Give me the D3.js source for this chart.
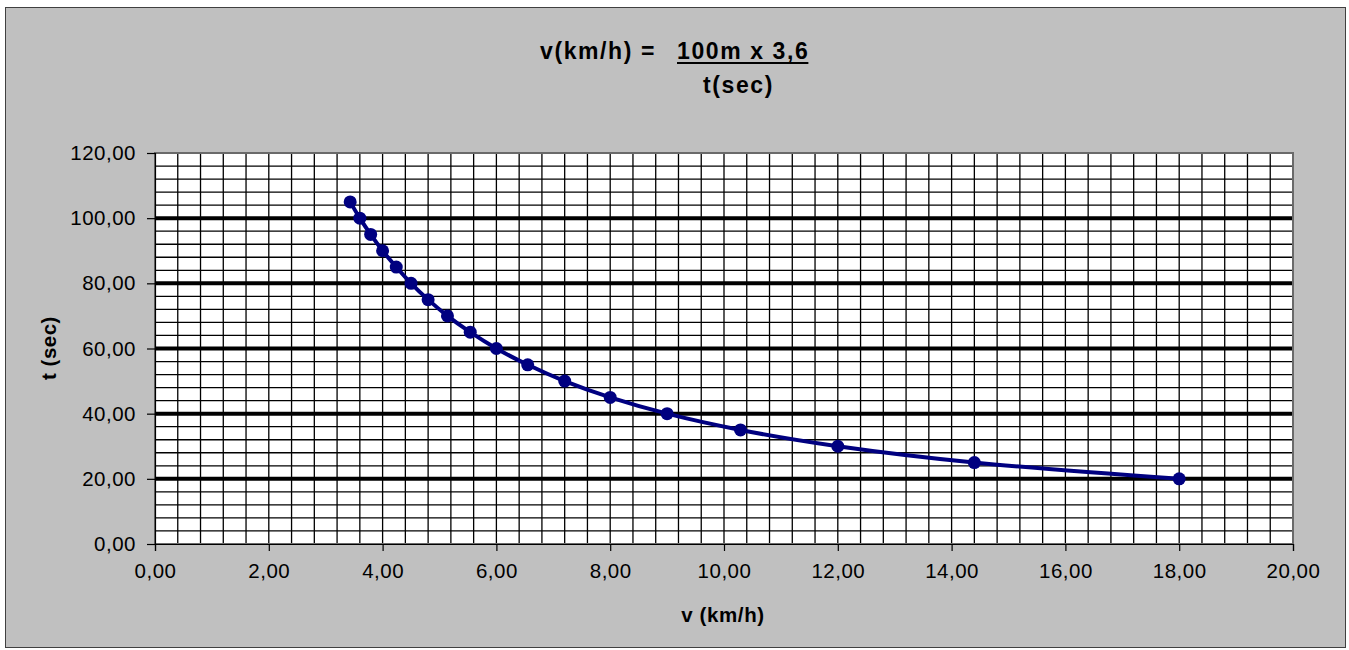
<!DOCTYPE html>
<html>
<head>
<meta charset="utf-8">
<script src="https://cdn.jsdelivr.net/npm/d3@7"></script>
<style>
  html, body { margin: 0; padding: 0; background: #ffffff; }
  svg { display: block; }
  text { font-family: "Liberation Sans", Arial, sans-serif; fill: #000; }
</style>
</head>
<body>
<svg id="chart" width="1349" height="650"></svg>
<script>
// Speed over 100 m versus time: v (km/h) = 100 m x 3,6 / t (sec)
const speedKmh = [3.43, 3.60, 3.79, 4.00, 4.24, 4.50, 4.80, 5.14, 5.54, 6.00, 6.55, 7.20, 8.00, 9.00, 10.29, 12.00, 14.40, 18.00];
const timeSec  = [105, 100, 95, 90, 85, 80, 75, 70, 65, 60, 55, 50, 45, 40, 35, 30, 25, 20];

const xTicks = [0, 2, 4, 6, 8, 10, 12, 14, 16, 18, 20];
const yTicks = [0, 20, 40, 60, 80, 100, 120];
const xMinorStep = 0.4;
const yMinorStep = 4;

const titleLeft = "v(km/h) =";
const titleNumerator = "100m x 3,6";
const titleDenominator = "t(sec)";
const xTitle = "v (km/h)";
const yTitle = "t (sec)";

const svg = d3.select("#chart");
const plot = { left: 155, top: 153, right: 1293, bottom: 544 };

const fmt = v => d3.format(".2f")(v).replace(".", ",");

// chart area
svg.append("rect")
  .attr("x", 5.5).attr("y", 7.5)
  .attr("width", 1340).attr("height", 640)
  .attr("fill", "#c0c0c0")
  .attr("stroke", "#404040").attr("stroke-width", 1);

const x = d3.scaleLinear().domain([0, 20]).range([plot.left, plot.right]);
const y = d3.scaleLinear().domain([0, 120]).range([plot.bottom, plot.top]);

// plot area
svg.append("rect")
  .attr("x", plot.left).attr("y", plot.top)
  .attr("width", plot.right - plot.left).attr("height", plot.bottom - plot.top)
  .attr("fill", "#ffffff");

const grid = svg.append("g");

// minor vertical gridlines
const xMinor = d3.range(1, Math.round(20 / xMinorStep)).map(i => +(i * xMinorStep).toFixed(2));
grid.selectAll("line.vx").data(xMinor).join("line")
  .attr("x1", d => x(d)).attr("x2", d => x(d))
  .attr("y1", plot.top).attr("y2", plot.bottom)
  .attr("stroke", "#000").attr("stroke-width", 1.3);

// minor horizontal gridlines
const yMinor = d3.range(1, Math.round(120 / yMinorStep)).map(i => i * yMinorStep).filter(d => d % 20 !== 0);
grid.selectAll("line.hy").data(yMinor).join("line")
  .attr("x1", plot.left).attr("x2", plot.right)
  .attr("y1", d => y(d)).attr("y2", d => y(d))
  .attr("stroke", "#000").attr("stroke-width", 1.3);

// major horizontal gridlines
grid.selectAll("line.major").data(yTicks.filter(d => d > 0 && d < 120)).join("line")
  .attr("x1", plot.left).attr("x2", plot.right)
  .attr("y1", d => y(d)).attr("y2", d => y(d))
  .attr("stroke", "#000").attr("stroke-width", 4);

// plot area border
svg.append("rect")
  .attr("x", plot.left).attr("y", plot.top)
  .attr("width", plot.right - plot.left).attr("height", plot.bottom - plot.top)
  .attr("fill", "none")
  .attr("stroke", "#6a6a6a").attr("stroke-width", 2);

// axes
const xAxis = d3.axisBottom(x).tickValues(xTicks).tickSize(7).tickPadding(12).tickFormat(fmt);
const yAxis = d3.axisLeft(y).tickValues(yTicks).tickSize(8).tickPadding(11).tickFormat(fmt);

const gx = svg.append("g").attr("transform", `translate(0,${plot.bottom})`).call(xAxis);
const gy = svg.append("g").attr("transform", `translate(${plot.left},0)`).call(yAxis);

[gx, gy].forEach(g => {
  g.select(".domain").attr("stroke", "#000").attr("stroke-width", 1.2);
  g.selectAll(".tick line").attr("stroke", "#000").attr("stroke-width", 1.2);
  g.selectAll(".tick text")
    .attr("fill", "#000")
    .style("font-family", "'Liberation Sans', Arial, sans-serif")
    .style("font-size", "20.5px")
    .style("letter-spacing", "0.5px");
});
gx.selectAll(".tick text").attr("dy", "0.71em");

// series line (smoothed) and markers
const pts = speedKmh.map((v, i) => ({ v, t: timeSec[i] }));
const line = d3.line().x(d => x(d.v)).y(d => y(d.t)).curve(d3.curveCatmullRom.alpha(0.5));

svg.append("path")
  .datum(pts)
  .attr("d", line)
  .attr("fill", "none")
  .attr("stroke", "#000080")
  .attr("stroke-width", 4)
  .attr("stroke-linejoin", "round");

svg.selectAll("circle.pt").data(pts).join("circle")
  .attr("cx", d => x(d.v)).attr("cy", d => y(d.t))
  .attr("r", 6.5)
  .attr("fill", "#000080");

// axis titles
svg.append("text")
  .attr("x", 723).attr("y", 622)
  .attr("text-anchor", "middle")
  .style("font-size", "20.5px").style("font-weight", "bold").style("letter-spacing", "0.6px")
  .text(xTitle);

svg.append("text")
  .attr("transform", "translate(56,348) rotate(-90)")
  .attr("text-anchor", "middle")
  .style("font-size", "20.5px").style("font-weight", "bold").style("letter-spacing", "0.5px")
  .text(yTitle);

// chart title written as a fraction
const titleStyle = s => s.style("font-size", "23px").style("font-weight", "bold").style("letter-spacing", "1.6px");

svg.append("text").attr("x", 540).attr("y", 59).call(titleStyle).text(titleLeft);
const num = svg.append("text").attr("x", 677).attr("y", 59).call(titleStyle).text(titleNumerator);
svg.append("text").attr("x", 703).attr("y", 93).call(titleStyle).text(titleDenominator);

const nb = num.node().getBBox();
svg.append("line")
  .attr("x1", nb.x).attr("x2", nb.x + nb.width - 1)
  .attr("y1", 63).attr("y2", 63)
  .attr("stroke", "#000").attr("stroke-width", 2);
</script>
</body>
</html>
